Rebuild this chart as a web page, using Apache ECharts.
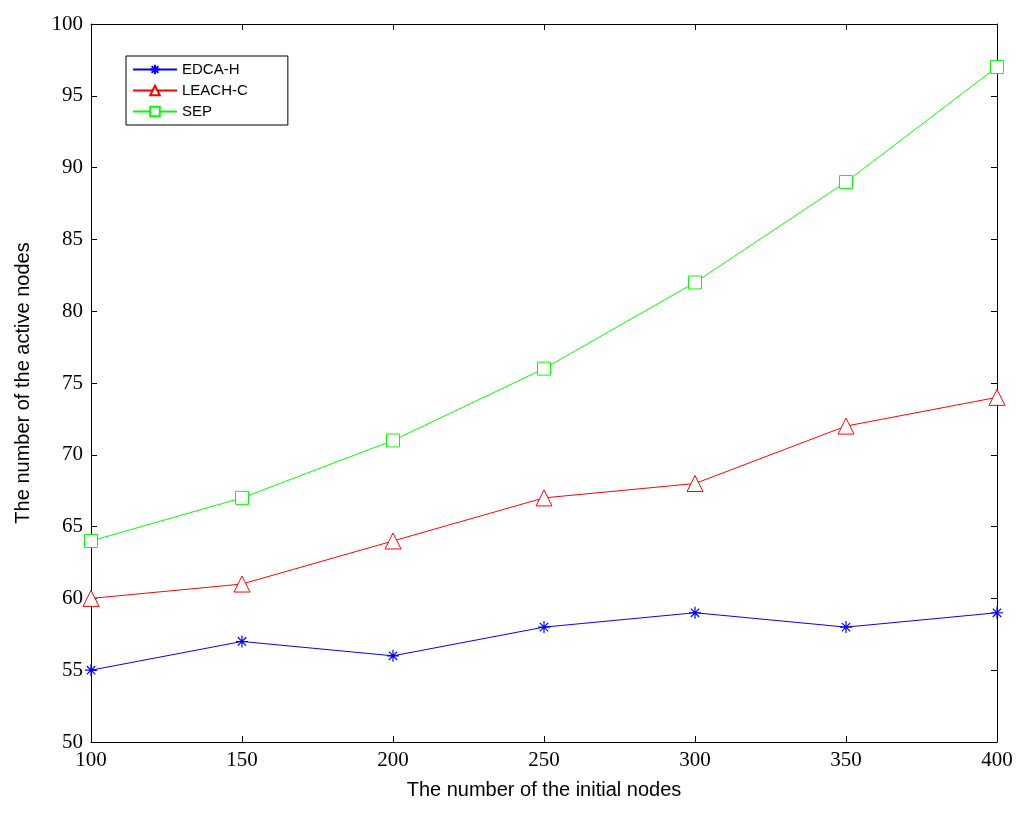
<!DOCTYPE html>
<html><head><meta charset="utf-8">
<script src="https://cdn.jsdelivr.net/npm/echarts@6/dist/echarts.min.js"></script>
<style>html,body{margin:0;background:#fff}#c{width:1024px;height:815px}</style>
</head><body><div id="c"></div>
<script>
const categories = [100,150,200,250,300,350,400];
const edcaH = [55,57,56,58,59,58,59];
const leachC = [60,61,64,67,68,72,74];
const sep = [64,67,71,76,82,89,97];
const xTicks = [100,150,200,250,300,350,400];
const chart = echarts.init(document.getElementById('c'));
const star = 'path://M0,-10L0,10M-10,0L10,0M-7,-7L7,7M-7,7L7,-7';
const pairs = a => a.map((v,i)=>[categories[i],v]);
const axisX = (pos,show) => ({type:'value',min:100,max:400,interval:50,position:pos,
  axisLine:{show:true,onZero:false,lineStyle:{color:'#000'}},
  axisTick:{inside:true,length:6,lineStyle:{color:'#000'}},splitLine:{show:false},
  axisLabel:{show:show,color:'#000',fontFamily:'Liberation Serif',fontSize:21,margin:8},
  name:show?'The number of the initial nodes':'',nameLocation:'middle',nameGap:38,
  nameTextStyle:{color:'#000',fontFamily:'Liberation Sans',fontSize:20}});
const axisY = (pos,show) => ({type:'value',min:50,max:100,interval:5,position:pos,
  axisLine:{show:true,onZero:false,lineStyle:{color:'#000'}},
  axisTick:{inside:true,length:6,lineStyle:{color:'#000'}},splitLine:{show:false},
  axisLabel:{show:show,color:'#000',fontFamily:'Liberation Serif',fontSize:21,margin:8},
  name:show?'The number of the active nodes':'',nameLocation:'middle',nameGap:58,
  nameTextStyle:{color:'#000',fontFamily:'Liberation Sans',fontSize:20}});
chart.setOption({
  animation:false,
  grid:{left:91,right:27,top:24,bottom:73},
  xAxis:[axisX('bottom',true),axisX('top',false)],
  yAxis:[axisY('left',true),axisY('right',false)],
  legend:{orient:'vertical',left:126,top:56,itemWidth:44,itemHeight:12,itemGap:6,
    padding:[6,40,6,6],borderColor:'#000',borderWidth:1,backgroundColor:'#fff',
    textStyle:{color:'#000',fontFamily:'Liberation Sans',fontSize:15},
    data:['EDCA-H','LEACH-C','SEP']},
  series:[
    {name:'EDCA-H',type:'line',data:pairs(edcaH),symbol:star,symbolSize:12,
      lineStyle:{color:'#0000ff',width:1},itemStyle:{color:'#0000ff',borderColor:'#0000ff',borderWidth:1.2}},
    {name:'LEACH-C',type:'line',data:pairs(leachC),symbol:'triangle',symbolSize:16,
      lineStyle:{color:'#ff0000',width:1},itemStyle:{color:'#fff',borderColor:'#ff0000',borderWidth:1}},
    {name:'SEP',type:'line',data:pairs(sep),symbol:'rect',symbolSize:13,
      lineStyle:{color:'#00ff00',width:1},itemStyle:{color:'#fff',borderColor:'#00ff00',borderWidth:1}}
  ]
});
</script></body></html>
